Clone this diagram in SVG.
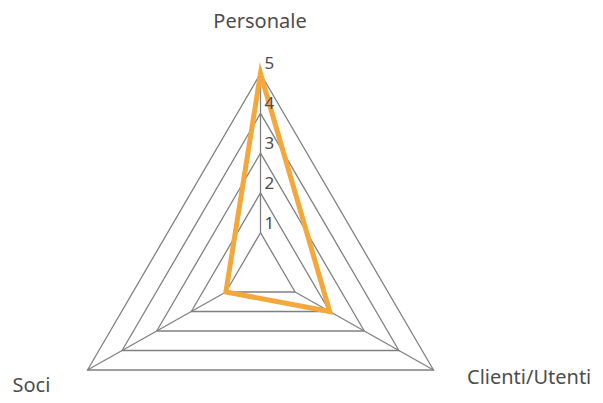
<svg xmlns="http://www.w3.org/2000/svg" width="603" height="403" viewBox="0 0 603 403">
<style>
.grid{fill:none;stroke:#808080;stroke-width:1.3}
.axis{stroke:#808080;stroke-width:1.3}
.series{fill:none;stroke:#F4A73B;stroke-width:5;stroke-linejoin:miter;stroke-miterlimit:10}
.cat{font-family:"Noto Sans","Open Sans","Liberation Sans",sans-serif;font-size:20px;fill:#4d4d4d}
.tick{font-family:"Noto Sans","Open Sans","Liberation Sans",sans-serif;font-size:17px;fill:#4d4d4d}
</style>
<rect width="603" height="403" fill="#ffffff"/>
<g id="grid">
<polygon class="grid" points="260.5,232.7 295.1,292 225.9,292"/>
<polygon class="grid" points="260.5,192.9 329.7,311.5 191.3,311.5"/>
<polygon class="grid" points="260.5,153.1 364.3,331 156.7,331"/>
<polygon class="grid" points="260.5,113.3 398.9,350.5 122.1,350.5"/>
<polygon class="grid" points="260.5,73.5 433.5,370 87.5,370"/>
</g>
<g id="connectors">
<line class="axis" x1="260.5" y1="232.7" x2="260.5" y2="73.5"/>
<line class="axis" x1="295.1" y1="292" x2="433.5" y2="370"/>
<line class="axis" x1="225.9" y1="292" x2="87.5" y2="370"/>
</g>
<g id="series">
<polygon class="series" points="260.5,73.5 329.7,311.5 225.9,292"/>
</g>
<g id="ticks">
<text class="tick" x="264.5" y="228.5">1</text>
<text class="tick" x="264.5" y="189">2</text>
<text class="tick" x="264.5" y="149.2">3</text>
<text class="tick" x="264.5" y="109.2">4</text>
<text class="tick" x="264.5" y="69">5</text>
</g>
<g id="node-personale"><text class="cat" x="260" y="28" text-anchor="middle">Personale</text></g>
<g id="node-clienti"><text class="cat" x="467" y="384">Clienti/Utenti</text></g>
<g id="node-soci"><text class="cat" x="12.5" y="392">Soci</text></g>
</svg>
